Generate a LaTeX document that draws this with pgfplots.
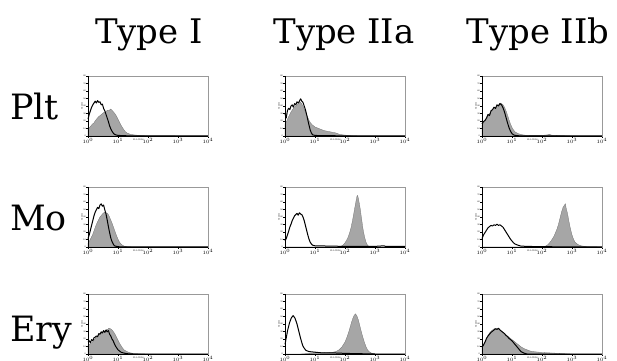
\documentclass[border=0pt]{standalone}
\usepackage{fontspec}
\setmainfont{DejaVu Serif}
\usepackage{pgfplots}
\pgfplotsset{compat=1.18}
\pgfplotsset{
  hist/.style={
    anchor=south west, width=120bp, height=60bp, scale only axis,
    xmin=0, xmax=4, ymin=0, ymax=1,
    axis line style={draw=black!40, line width=0.5pt},
    xtick={0,1,2,3,4},
    xticklabels={$10^0$,$10^1$,$10^2$,$10^3$,$10^4$},
    minor xtick={0.301,0.477,0.602,0.699,0.778,0.845,0.903,0.954,
                 1.301,1.477,1.602,1.699,1.778,1.845,1.903,1.954,
                 2.301,2.477,2.602,2.699,2.778,2.845,2.903,2.954,
                 3.301,3.477,3.602,3.699,3.778,3.845,3.903,3.954},
    ytick={0,0.125,0.25,0.375,0.5,0.625,0.75,0.875,1},
    yticklabels={0,10,20,30,40,50,60,70,80},
    tick align=outside, tickpos=left,
    major tick length=1.6bp, minor tick length=0.9bp,
    every tick/.style={black, line width=0.3pt},
    tick label style={font=\fontsize{2}{2.4}\selectfont, inner sep=0.4pt},
    ylabel={Counts}, ylabel style={font=\fontsize{2}{2.4}\selectfont, inner sep=0pt},
    xlabel={FL1-CD36}, xlabel style={font=\fontsize{2}{2.4}\selectfont, inner sep=0pt, at={(rel axis cs:0.42,0)}, anchor=north, yshift=-2.4bp},
    clip=false,
    execute at end axis={\draw[black, line width=0.6pt] (rel axis cs:0,1) -- (rel axis cs:0,0) -- (rel axis cs:1,0);},
  },
  gr/.style={fill=black!35, draw=black!55, line width=0.3pt},
  bl/.style={draw=black, line width=1pt, line join=round},
}
\begin{document}
\begin{tikzpicture}
\useasboundingbox (0bp,0bp) rectangle (617bp,361bp);
% titles
\node[anchor=base, inner sep=0pt, font=\fontsize{34}{40}\selectfont] at (149bp,317bp) {Type I};
\node[anchor=base, inner sep=0pt, font=\fontsize{34}{40}\selectfont] at (344bp,317bp) {Type IIa};
\node[anchor=base, inner sep=0pt, font=\fontsize{34}{40}\selectfont] at (538bp,317bp) {Type IIb};
% row labels
\node[anchor=base west, inner sep=0pt, font=\fontsize{35}{40}\selectfont] at (10bp,241bp) {Plt};
\node[anchor=base west, inner sep=0pt, font=\fontsize{35}{40}\selectfont] at (10bp,130bp) {Mo};
\node[anchor=base west, inner sep=0pt, font=\fontsize{35}{40}\selectfont] at (10bp,20bp) {Ery};

% ---------- Row 1: Plt ----------
\begin{axis}[hist, at={(88bp,225bp)}]
\addplot[gr] coordinates {(0,0.11)(0.05,0.14)(0.1,0.17)(0.15,0.2)(0.2,0.22)(0.25,0.26)(0.3,0.29)(0.35,0.32)(0.4,0.34)(0.45,0.36)(0.5,0.38)(0.55,0.40)(0.6,0.41)(0.65,0.43)(0.7,0.42)(0.75,0.45)(0.8,0.43)(0.85,0.40)(0.9,0.37)(0.95,0.33)(1.0,0.28)(1.05,0.23)(1.1,0.18)(1.15,0.14)(1.2,0.10)(1.25,0.07)(1.3,0.05)(1.4,0.03)(1.5,0.02)(1.7,0.01)(2.0,0.003)(4,0)} \closedcycle;
\addplot[bl] coordinates {(0,0.28)(0.04,0.36)(0.08,0.42)(0.12,0.48)(0.16,0.52)(0.2,0.55)(0.24,0.58)(0.28,0.55)(0.32,0.59)(0.36,0.56)(0.4,0.57)(0.44,0.52)(0.48,0.53)(0.52,0.46)(0.56,0.42)(0.6,0.36)(0.64,0.30)(0.68,0.24)(0.72,0.17)(0.76,0.12)(0.8,0.08)(0.84,0.05)(0.88,0.03)(0.92,0.02)(1.0,0.01)(1.2,0.005)(1.6,0)(4,0)};
\end{axis}
\begin{axis}[hist, at={(285bp,225bp)}]
\addplot[gr] coordinates {(0,0.2)(0.05,0.24)(0.1,0.3)(0.15,0.35)(0.2,0.4)(0.25,0.44)(0.3,0.47)(0.35,0.5)(0.4,0.52)(0.45,0.55)(0.5,0.57)(0.55,0.54)(0.6,0.50)(0.65,0.44)(0.7,0.38)(0.75,0.32)(0.8,0.26)(0.85,0.22)(0.9,0.19)(0.95,0.17)(1.0,0.15)(1.1,0.13)(1.2,0.11)(1.3,0.09)(1.4,0.08)(1.5,0.07)(1.6,0.06)(1.7,0.05)(1.8,0.03)(1.9,0.02)(2.0,0.015)(2.2,0.005)(2.5,0)(4,0)} \closedcycle;
\addplot[bl] coordinates {(0,0.37)(0.04,0.3)(0.08,0.42)(0.12,0.46)(0.16,0.44)(0.2,0.5)(0.24,0.52)(0.28,0.48)(0.32,0.54)(0.36,0.52)(0.4,0.57)(0.44,0.55)(0.48,0.58)(0.52,0.62)(0.56,0.58)(0.6,0.56)(0.64,0.5)(0.68,0.44)(0.72,0.36)(0.76,0.27)(0.8,0.18)(0.84,0.10)(0.88,0.05)(0.92,0.02)(1.0,0.01)(1.2,0.005)(4,0)};
\end{axis}
\begin{axis}[hist, at={(482bp,225bp)}]
\addplot[gr] coordinates {(0,0.18)(0.05,0.22)(0.1,0.25)(0.15,0.28)(0.2,0.33)(0.25,0.37)(0.3,0.4)(0.35,0.43)(0.4,0.46)(0.45,0.48)(0.5,0.5)(0.55,0.52)(0.6,0.55)(0.65,0.54)(0.7,0.52)(0.75,0.48)(0.8,0.42)(0.85,0.35)(0.9,0.27)(0.95,0.2)(1.0,0.14)(1.05,0.1)(1.1,0.07)(1.2,0.04)(1.3,0.025)(1.4,0.015)(1.6,0.01)(1.8,0.01)(2.0,0.01)(2.2,0.02)(2.25,0.03)(2.3,0.015)(2.5,0.01)(2.8,0.005)(3,0)(4,0)} \closedcycle;
\addplot[bl] coordinates {(0,0.2)(0.05,0.24)(0.1,0.26)(0.15,0.3)(0.2,0.36)(0.25,0.34)(0.3,0.42)(0.35,0.44)(0.4,0.48)(0.45,0.46)(0.5,0.52)(0.55,0.5)(0.6,0.54)(0.65,0.52)(0.7,0.47)(0.75,0.4)(0.8,0.31)(0.85,0.22)(0.9,0.14)(0.95,0.08)(1.0,0.04)(1.05,0.02)(1.1,0.01)(1.3,0)(4,0)};
\end{axis}

% ---------- Row 2: Mo ----------
\begin{axis}[hist, at={(88bp,114bp)}]
\addplot[gr] coordinates {(0,0.06)(0.05,0.1)(0.1,0.15)(0.15,0.2)(0.2,0.27)(0.25,0.34)(0.3,0.4)(0.35,0.45)(0.4,0.5)(0.45,0.53)(0.5,0.56)(0.55,0.58)(0.6,0.57)(0.65,0.56)(0.7,0.52)(0.75,0.46)(0.8,0.4)(0.85,0.33)(0.9,0.26)(0.95,0.19)(1.0,0.13)(1.05,0.08)(1.1,0.05)(1.15,0.03)(1.2,0.015)(1.3,0.005)(1.5,0)(4,0)} \closedcycle;
\addplot[bl] coordinates {(0,0.14)(0.04,0.2)(0.08,0.28)(0.12,0.36)(0.16,0.44)(0.2,0.52)(0.24,0.58)(0.28,0.62)(0.32,0.66)(0.36,0.64)(0.4,0.7)(0.44,0.72)(0.48,0.68)(0.52,0.70)(0.56,0.62)(0.6,0.55)(0.64,0.45)(0.68,0.34)(0.72,0.24)(0.76,0.15)(0.8,0.09)(0.84,0.05)(0.88,0.02)(0.95,0.01)(1.1,0)(4,0)};
\end{axis}
\begin{axis}[hist, at={(285bp,114bp)}]
\addplot[gr] coordinates {(0,0)(1.8,0)(1.9,0.02)(1.95,0.04)(2.0,0.07)(2.05,0.11)(2.1,0.16)(2.15,0.23)(2.2,0.32)(2.25,0.44)(2.3,0.58)(2.35,0.72)(2.4,0.85)(2.42,0.86)(2.45,0.8)(2.5,0.66)(2.55,0.48)(2.6,0.3)(2.65,0.17)(2.7,0.08)(2.75,0.03)(2.8,0.01)(2.9,0)(4,0)} \closedcycle;
\addplot[bl] coordinates {(0,0.1)(0.04,0.14)(0.08,0.2)(0.12,0.26)(0.16,0.33)(0.2,0.38)(0.24,0.44)(0.28,0.48)(0.32,0.52)(0.36,0.54)(0.4,0.56)(0.44,0.53)(0.48,0.57)(0.52,0.55)(0.56,0.54)(0.6,0.5)(0.64,0.44)(0.68,0.36)(0.72,0.28)(0.76,0.2)(0.8,0.13)(0.84,0.08)(0.88,0.05)(0.92,0.03)(1.0,0.02)(1.5,0.015)(2.0,0.01)(2.5,0.01)(3.0,0.01)(3.3,0.02)(3.35,0.01)(4,0.01)};
\end{axis}
\begin{axis}[hist, at={(482bp,114bp)}]
\addplot[gr] coordinates {(0,0)(2.0,0)(2.1,0.01)(2.2,0.04)(2.3,0.1)(2.4,0.18)(2.5,0.3)(2.55,0.38)(2.6,0.48)(2.65,0.58)(2.7,0.66)(2.75,0.7)(2.78,0.72)(2.8,0.66)(2.85,0.56)(2.9,0.42)(2.95,0.3)(3.0,0.2)(3.05,0.13)(3.1,0.08)(3.2,0.04)(3.3,0.02)(3.5,0.005)(4,0)} \closedcycle;
\addplot[bl] coordinates {(0,0.14)(0.05,0.2)(0.1,0.24)(0.15,0.28)(0.2,0.32)(0.25,0.34)(0.3,0.36)(0.35,0.35)(0.4,0.37)(0.45,0.36)(0.5,0.38)(0.55,0.36)(0.6,0.37)(0.65,0.35)(0.7,0.33)(0.75,0.29)(0.8,0.25)(0.85,0.21)(0.9,0.17)(0.95,0.13)(1.0,0.1)(1.05,0.07)(1.1,0.05)(1.2,0.03)(1.3,0.015)(1.5,0.01)(2.0,0.005)(4,0)};
\end{axis}

% ---------- Row 3: Ery ----------
\begin{axis}[hist, at={(88bp,7bp)}]
\addplot[gr] coordinates {(0,0.14)(0.05,0.16)(0.1,0.18)(0.15,0.2)(0.2,0.23)(0.25,0.26)(0.3,0.28)(0.35,0.31)(0.4,0.33)(0.45,0.35)(0.5,0.37)(0.55,0.38)(0.6,0.4)(0.65,0.41)(0.7,0.43)(0.75,0.42)(0.8,0.4)(0.85,0.37)(0.9,0.33)(0.95,0.28)(1.0,0.23)(1.05,0.18)(1.1,0.14)(1.15,0.1)(1.2,0.07)(1.3,0.04)(1.4,0.02)(1.5,0.01)(1.7,0.005)(2.0,0)(4,0)} \closedcycle;
\addplot[bl] coordinates {(0,0.2)(0.04,0.22)(0.08,0.19)(0.12,0.24)(0.16,0.22)(0.2,0.27)(0.24,0.28)(0.28,0.3)(0.32,0.29)(0.36,0.34)(0.4,0.33)(0.44,0.37)(0.48,0.35)(0.52,0.39)(0.56,0.36)(0.6,0.4)(0.64,0.37)(0.68,0.39)(0.72,0.33)(0.76,0.3)(0.8,0.25)(0.84,0.22)(0.88,0.17)(0.92,0.13)(0.96,0.1)(1.0,0.07)(1.05,0.05)(1.1,0.03)(1.2,0.015)(1.3,0.005)(1.5,0)(4,0)};
\end{axis}
\begin{axis}[hist, at={(285bp,7bp)}]
\addplot[gr] coordinates {(0,0)(0.5,0)(0.8,0.01)(1.0,0.02)(1.2,0.02)(1.4,0.025)(1.6,0.03)(1.7,0.04)(1.8,0.07)(1.9,0.12)(2.0,0.2)(2.05,0.26)(2.1,0.33)(2.15,0.41)(2.2,0.5)(2.25,0.58)(2.3,0.64)(2.35,0.67)(2.4,0.63)(2.45,0.56)(2.5,0.46)(2.55,0.36)(2.6,0.27)(2.65,0.19)(2.7,0.12)(2.75,0.07)(2.8,0.04)(2.9,0.01)(3.0,0)(4,0)} \closedcycle;
\addplot[bl] coordinates {(0,0.16)(0.03,0.24)(0.06,0.32)(0.09,0.4)(0.12,0.46)(0.15,0.52)(0.18,0.56)(0.21,0.6)(0.24,0.62)(0.27,0.64)(0.3,0.62)(0.33,0.6)(0.36,0.56)(0.4,0.5)(0.44,0.42)(0.48,0.34)(0.52,0.26)(0.56,0.19)(0.6,0.13)(0.65,0.09)(0.7,0.06)(0.8,0.04)(1.0,0.03)(1.2,0.02)(1.5,0.02)(1.8,0.015)(2.0,0.01)(2.5,0.005)(3,0)(4,0)};
\end{axis}
\begin{axis}[hist, at={(482bp,7bp)}]
\addplot[gr] coordinates {(0,0.1)(0.05,0.15)(0.1,0.2)(0.15,0.26)(0.2,0.31)(0.25,0.35)(0.3,0.38)(0.35,0.4)(0.4,0.42)(0.45,0.43)(0.5,0.42)(0.55,0.41)(0.6,0.4)(0.65,0.38)(0.7,0.36)(0.75,0.34)(0.8,0.32)(0.9,0.28)(1.0,0.24)(1.1,0.2)(1.2,0.16)(1.3,0.12)(1.4,0.09)(1.5,0.07)(1.6,0.05)(1.7,0.04)(1.8,0.035)(1.9,0.03)(2.0,0.025)(2.2,0.02)(2.4,0.015)(2.6,0.01)(2.8,0.005)(3.0,0)(4,0)} \closedcycle;
\addplot[bl] coordinates {(0,0.11)(0.05,0.15)(0.1,0.2)(0.15,0.26)(0.2,0.3)(0.25,0.33)(0.3,0.36)(0.35,0.38)(0.4,0.4)(0.45,0.42)(0.5,0.41)(0.55,0.43)(0.6,0.4)(0.65,0.38)(0.7,0.36)(0.75,0.34)(0.8,0.31)(0.85,0.29)(0.9,0.26)(0.95,0.24)(1.0,0.22)(1.05,0.19)(1.1,0.16)(1.15,0.13)(1.2,0.1)(1.25,0.07)(1.3,0.04)(1.4,0.015)(1.5,0)(4,0)};
\end{axis}
\end{tikzpicture}
\end{document}
